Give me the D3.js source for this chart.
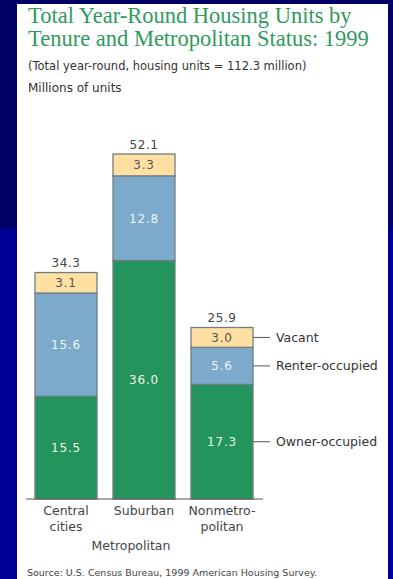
<!DOCTYPE html>
<html lang="en">
<head>
<meta charset="UTF-8">
<title>Total Year-Round Housing Units by Tenure and Metropolitan Status: 1999</title>
<script src="https://d3js.org/d3.v7.min.js"></script>
<style>
    html, body { margin: 0; padding: 0; background: #000066; }
    svg { display: block; }
</style>
</head>
<body>
<div id="chart"></div>
<script>
    // data (millions of units)
    const categories = ['Central cities', 'Suburban', 'Nonmetropolitan'];
    const categoryLabels = [['Central', 'cities'], ['Suburban'], ['Nonmetro-', 'politan']];
    const ownerOccupied = [15.5, 36.0, 17.3];
    const renterOccupied = [15.6, 12.8, 5.6];
    const vacant = [3.1, 3.3, 3.0];
    const totals = [34.3, 52.1, 25.9];
    const seriesNames = ['Owner-occupied', 'Renter-occupied', 'Vacant'];

    const W = 393, H = 579;
    const sans = "'DejaVu Sans', sans-serif";
    const colors = { 'Owner-occupied': '#23945b', 'Renter-occupied': '#7daacb', 'Vacant': '#ffe0a2' };
    const labelColors = { 'Owner-occupied': '#eef5ee', 'Renter-occupied': '#eef3f8', 'Vacant': '#555' };

    const rows = categories.map((c, i) => ({
        category: c,
        'Owner-occupied': ownerOccupied[i],
        'Renter-occupied': renterOccupied[i],
        'Vacant': vacant[i]
    }));
    const stacked = d3.stack().keys(seriesNames)(rows);

    const svg = d3.select('#chart').append('svg')
        .attr('width', W)
        .attr('height', H);

    // slide background: navy frame, white panel
    svg.append('rect').attr('x', 0).attr('y', 0).attr('width', W).attr('height', H).attr('fill', '#000066');
    svg.append('rect').attr('x', 0).attr('y', 229).attr('width', W).attr('height', H - 229).attr('fill', '#000099');
    svg.append('rect').attr('x', 17).attr('y', 4).attr('width', 371).attr('height', H - 4).attr('fill', '#ffffff');

    // titles
    const title = svg.append('text')
        .attr('fill', '#2f9a60')
        .style('font-family', "'Liberation Serif', serif")
        .style('font-size', '22.5px');
    title.append('tspan').attr('x', 28).attr('y', 23).text('Total Year-Round Housing Units by');
    title.append('tspan').attr('x', 28).attr('y', 46).text('Tenure and Metropolitan Status: 1999');

    svg.append('text')
        .attr('x', 28).attr('y', 70)
        .attr('fill', '#333')
        .style('font-family', sans)
        .style('font-size', '11.5px')
        .text('(Total year-round, housing units = 112.3 million)');

    svg.append('text')
        .attr('x', 28).attr('y', 92)
        .attr('fill', '#333')
        .style('font-family', sans)
        .style('font-size', '12px')
        .text('Millions of units');

    // scales
    const xScale = d3.scaleBand()
        .domain(categories)
        .range([27, 261])
        .paddingInner(0.205)
        .paddingOuter(0.1025);

    const yScale = d3.scaleLinear()
        .domain([0, 52.1])
        .range([499, 154]);

    // stacked bars
    const layers = svg.selectAll('.layer')
        .data(stacked)
        .enter()
        .append('g')
        .attr('class', 'layer');

    layers.selectAll('rect')
        .data(d => d.map(p => ({ key: d.key, p: p })))
        .enter()
        .append('rect')
        .attr('x', d => xScale(d.p.data.category))
        .attr('y', d => yScale(d.p[1]))
        .attr('width', xScale.bandwidth())
        .attr('height', d => yScale(d.p[0]) - yScale(d.p[1]))
        .attr('fill', d => colors[d.key])
        .attr('stroke', '#6f7f82')
        .attr('stroke-width', 1.3);

    // segment values
    layers.selectAll('.seg-label')
        .data(d => d.map(p => ({ key: d.key, p: p })))
        .enter()
        .append('text')
        .attr('class', 'seg-label')
        .attr('x', d => xScale(d.p.data.category) + xScale.bandwidth() / 2)
        .attr('y', d => (yScale(d.p[0]) + yScale(d.p[1])) / 2)
        .attr('dy', '0.36em')
        .attr('text-anchor', 'middle')
        .attr('fill', d => labelColors[d.key])
        .style('font-family', sans)
        .style('font-size', '12px')
        .style('letter-spacing', '0.8px')
        .text(d => (d.p[1] - d.p[0]).toFixed(1));

    // totals
    svg.selectAll('.total')
        .data(categories)
        .enter()
        .append('text')
        .attr('class', 'total')
        .attr('x', d => xScale(d) + xScale.bandwidth() / 2)
        .attr('y', (d, i) => yScale(totals[i]) - 5)
        .attr('text-anchor', 'middle')
        .attr('fill', '#444')
        .style('font-family', sans)
        .style('font-size', '12px')
        .style('letter-spacing', '0.6px')
        .text((d, i) => totals[i].toFixed(1));

    // baseline
    svg.append('line')
        .attr('x1', 26).attr('x2', 263)
        .attr('y1', yScale(0)).attr('y2', yScale(0))
        .attr('stroke', '#555')
        .attr('stroke-width', 1.2);

    // category labels
    const catText = svg.selectAll('.cat')
        .data(categories)
        .enter()
        .append('text')
        .attr('class', 'cat')
        .attr('text-anchor', 'middle')
        .attr('fill', '#444')
        .style('font-family', sans)
        .style('font-size', '12.5px');

    catText.selectAll('tspan')
        .data((d, i) => categoryLabels[i].map(t => ({ t: t, c: d })))
        .enter()
        .append('tspan')
        .attr('x', d => xScale(d.c) + xScale.bandwidth() / 2)
        .attr('y', (d, j) => yScale(0) + 16 + j * 16)
        .text(d => d.t);

    svg.append('text')
        .attr('x', 131).attr('y', yScale(0) + 51)
        .attr('text-anchor', 'middle')
        .attr('fill', '#444')
        .style('font-family', sans)
        .style('font-size', '12.5px')
        .text('Metropolitan');

    // legend, tied to the last bar
    const lastCat = categories[categories.length - 1];
    const legendX = xScale(lastCat) + xScale.bandwidth();
    const legend = svg.selectAll('.legend-item')
        .data(stacked)
        .enter()
        .append('g')
        .attr('class', 'legend-item')
        .attr('transform', d => {
            const p = d[d.length - 1];
            return `translate(${legendX}, ${(yScale(p[0]) + yScale(p[1])) / 2})`;
        });

    legend.append('line')
        .attr('x1', 0).attr('x2', 17)
        .attr('stroke', '#555')
        .attr('stroke-width', 1);

    legend.append('text')
        .attr('x', 23)
        .attr('dy', '0.36em')
        .attr('fill', '#333')
        .style('font-family', sans)
        .style('font-size', '12.5px')
        .text(d => d.key);

    // source
    svg.append('text')
        .attr('x', 27).attr('y', 576)
        .attr('fill', '#444')
        .style('font-family', sans)
        .style('font-size', '9.5px')
        .text('Source: U.S. Census Bureau, 1999 American Housing Survey.');
</script>
</body>
</html>
